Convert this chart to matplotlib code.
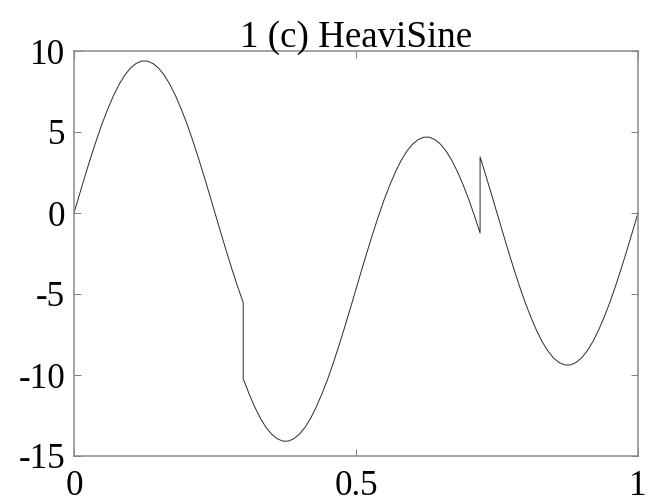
import matplotlib
matplotlib.use("Agg")
import matplotlib.pyplot as plt
import numpy as np

# HeaviSine test signal, sampled every 0.01 (jumps at t=0.30 and t=0.72)
t_left = [0.00, 0.01, 0.02, 0.03, 0.04, 0.05, 0.06, 0.07, 0.08, 0.09,
          0.10, 0.11, 0.12, 0.13, 0.14, 0.15, 0.16, 0.17, 0.18, 0.19,
          0.20, 0.21, 0.22, 0.23, 0.24, 0.25, 0.26, 0.27, 0.28, 0.29, 0.30]
y_left = [0.00, 1.18, 2.34, 3.46, 4.53, 5.53, 6.43, 7.24, 7.94, 8.51,
          8.94, 9.23, 9.38, 9.38, 9.23, 8.94, 8.51, 7.94, 7.24, 6.43,
          5.53, 4.53, 3.46, 2.34, 1.18, 0.00, -1.18, -2.34, -3.46, -4.53, -5.53]

t_mid = [0.30, 0.31, 0.32, 0.33, 0.34, 0.35, 0.36, 0.37, 0.38, 0.39,
         0.40, 0.41, 0.42, 0.43, 0.44, 0.45, 0.46, 0.47, 0.48, 0.49,
         0.50, 0.51, 0.52, 0.53, 0.54, 0.55, 0.56, 0.57, 0.58, 0.59,
         0.60, 0.61, 0.62, 0.63, 0.64, 0.65, 0.66, 0.67, 0.68, 0.69,
         0.70, 0.71, 0.72]
y_mid = [-10.23, -11.13, -11.94, -12.64, -13.21, -13.64, -13.93, -14.08, -14.08, -13.93,
         -13.64, -13.21, -12.64, -11.94, -11.13, -10.23, -9.23, -8.16, -7.04, -5.88,
         -4.70, -3.52, -2.36, -1.24, -0.17, 0.83, 1.73, 2.54, 3.24, 3.81,
         4.24, 4.53, 4.68, 4.68, 4.53, 4.24, 3.81, 3.24, 2.54, 1.73,
         0.83, -0.17, -1.24]

t_right = [0.72, 0.73, 0.74, 0.75, 0.76, 0.77, 0.78, 0.79, 0.80, 0.81,
           0.82, 0.83, 0.84, 0.85, 0.86, 0.87, 0.88, 0.89, 0.90, 0.91,
           0.92, 0.93, 0.94, 0.95, 0.96, 0.97, 0.98, 0.99, 1.00]
y_right = [3.46, 2.34, 1.18, 0.00, -1.18, -2.34, -3.46, -4.53, -5.53, -6.43,
           -7.24, -7.94, -8.51, -8.94, -9.23, -9.38, -9.38, -9.23, -8.94, -8.51,
           -7.94, -7.24, -6.43, -5.53, -4.53, -3.46, -2.34, -1.18, 0.00]

x_ticks = [0, 0.5, 1]
x_labels = ['0', '0.5', '1']
y_ticks = [-15, -10, -5, 0, 5, 10]
y_labels = ['-15', '-10', '-5', '0', '5', '10']

plt.rcParams['font.family'] = ['Liberation Serif', 'DejaVu Serif']

fig = plt.figure(figsize=(9, 7), dpi=72)
ax = fig.add_axes([74/648, 1 - 456/504, 564/648, 405/504])

t = np.array(t_left + t_mid + t_right)
y = np.array(y_left + y_mid + y_right)
ax.plot(t, y, color='#303030', linewidth=1.0)

ax.set_xlim(0, 1)
ax.set_ylim(-15, 10)
ax.set_xticks(x_ticks)
ax.set_xticklabels(x_labels)
ax.set_yticks(y_ticks)
ax.set_yticklabels(y_labels)
ax.tick_params(direction='in', length=7, width=0.8, colors='#606060',
               labelcolor='black', labelsize=35, top=True, right=True)
ax.tick_params(axis='x', pad=14)
ax.tick_params(axis='y', pad=9)
for side in ax.spines.values():
    side.set_color('#888888')
    side.set_linewidth(1.5)

ax.set_title('1 (c) HeaviSine', fontsize=37, pad=4)

fig.savefig('out.png', dpi=72)
